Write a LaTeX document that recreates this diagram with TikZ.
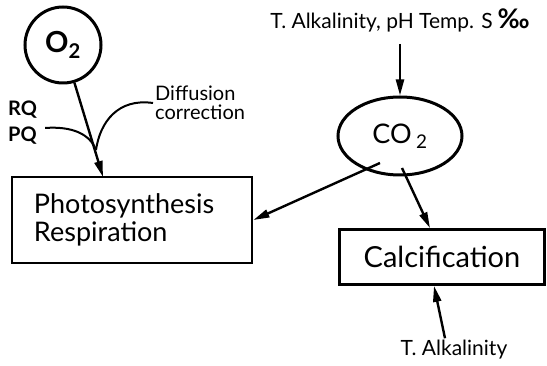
\documentclass[tikz,border=0pt]{standalone}
\usepackage{fontspec}
\setmainfont{Lato}
\usetikzlibrary{calc, arrows.meta, shapes.geometric}

\begin{document}
\begin{tikzpicture}[
   x = 1pt, y = -1pt,
   line width = 2.4pt,
   -{Triangle[length=16pt, width=8pt]},
   gas/.style = {draw, line width=3pt, inner sep=0pt},
   process/.style = {draw, line width=2.8pt, inner sep=0pt, font=\fontsize{27}{31}\selectfont},
   label/.style = {inner sep=1pt, font=\fontsize{21}{23}\selectfont}]
   \useasboundingbox (0,0) rectangle (547,366);

   \node[gas, circle, minimum size=76pt, font=\fontsize{29}{32}\selectfont\bfseries] (o2) at (63,45) {O\textsubscript{2}};
   \node[gas, ellipse, minimum width=124pt, minimum height=78pt, font=\fontsize{27}{30}\selectfont] (co2) at (400,136) {CO\,\textsubscript{2}};

   \node[process, minimum width=240pt, minimum height=86pt, text width=196pt, align=left] (ps) at (132,220) {Photosynthesis\\[-3pt]Respiration};
   \node[process, minimum width=205pt, minimum height=55pt, font=\fontsize{29}{31}\selectfont] (calc) at (442,257) {Calcification};

   \node[label] (top) at (400,20) {T. Alkalinity, pH Temp. S\hspace{5pt}{\fontsize{27}{27}\selectfont\bfseries ‰}};
   \node[label] (talk) at (454,350) {T. Alkalinity};
   \node[label, anchor=west, align=left, font=\fontsize{20}{22}\selectfont] (diff) at (153,103) {Diffusion\\[-3pt]correction};
   \node[label, anchor=west, font=\fontsize{20}{22}\selectfont\bfseries] (rq) at (6,110) {RQ};
   \node[label, anchor=west, font=\fontsize{20}{22}\selectfont\bfseries] (pq) at (6,136) {PQ};

   \coordinate (psin) at (103,177);
   \coordinate (join) at (96,150);

   \draw (o2) -- (psin);
   \draw[-, line width=2pt] ($(rq.east)!0.5!(pq.east)+(6,5)$) .. controls (72,126) and (90,134) .. (join);
   \draw[-, line width=2pt] (diff.west) .. controls (118,98) and (100,122) .. (join);

   \draw (top.south -| co2.north) [shorten <=10pt] -- (co2.north);
   \draw ($(co2.center)+(-20,27)$) -- (ps.east);
   \draw ($(co2.center)+(2,32)$) -- ($(calc.north)+(-12,0)$);
   \draw ($(talk.north)+(-9,0)$) -- ($(calc.south)+(-8,0)$);
\end{tikzpicture}
\end{document}
